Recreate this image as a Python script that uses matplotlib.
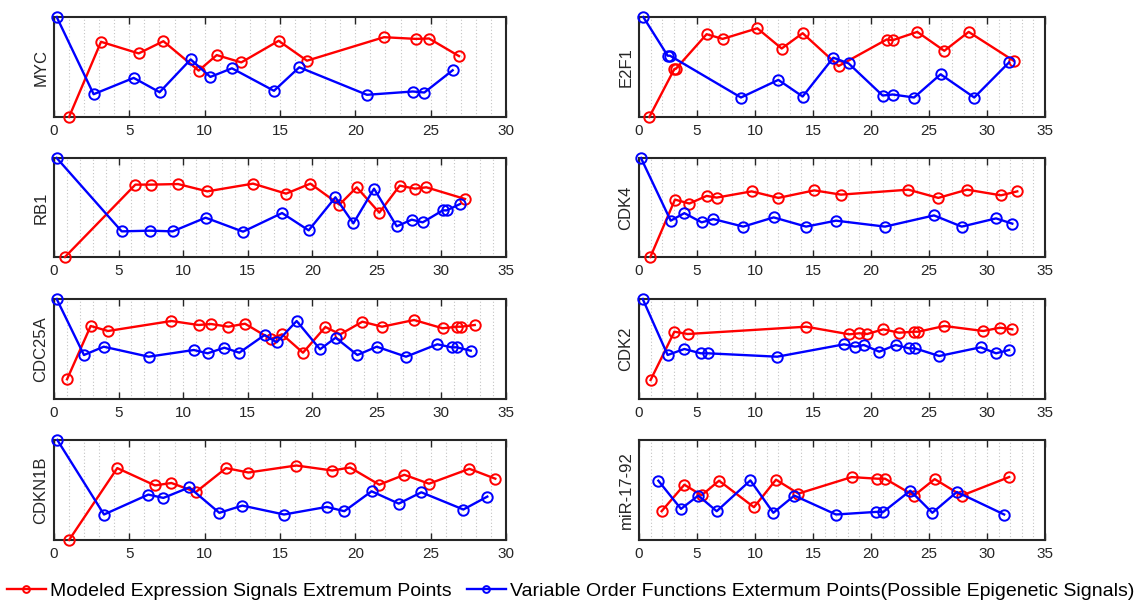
import matplotlib
matplotlib.use("Agg")
import matplotlib.pyplot as plt
from matplotlib.ticker import MultipleLocator

plt.rcParams['font.family'] = ['Liberation Sans', 'DejaVu Sans']

# ---- extremum points: time (x) and normalised level (y) ----
myc_red_t = [1.0, 3.12, 5.62, 7.26, 9.6, 10.8, 12.43, 14.91, 16.79, 21.9, 24.03, 24.89, 26.88]
myc_red_v = [0.0, 0.752, 0.636, 0.758, 0.464, 0.619, 0.546, 0.762, 0.563, 0.798, 0.781, 0.785, 0.609]
myc_blue_t = [0.18, 2.63, 5.29, 7.01, 9.07, 10.38, 11.81, 14.6, 16.28, 20.77, 23.81, 24.58, 26.46]
myc_blue_v = [1.0, 0.228, 0.391, 0.248, 0.576, 0.401, 0.487, 0.262, 0.497, 0.222, 0.255, 0.245, 0.467]

e2f1_red_t = [0.89, 3.05, 3.16, 5.83, 7.21, 10.2, 12.3, 14.11, 17.21, 21.35, 21.87, 23.99, 26.32, 28.42, 32.33]
e2f1_red_v = [0.0, 0.48, 0.48, 0.828, 0.781, 0.887, 0.685, 0.838, 0.51, 0.775, 0.768, 0.851, 0.662, 0.851, 0.56]
e2f1_blue_t = [0.37, 2.47, 2.67, 8.79, 12.01, 14.11, 16.75, 18.07, 21.0, 21.87, 23.71, 26.0, 28.9, 31.9]
e2f1_blue_v = [1.0, 0.613, 0.613, 0.195, 0.371, 0.205, 0.593, 0.536, 0.215, 0.225, 0.195, 0.427, 0.195, 0.546]

rb1_red_t = [0.85, 6.3, 7.49, 9.6, 11.87, 15.41, 17.97, 19.85, 22.1, 23.44, 25.19, 26.77, 27.96, 28.83, 31.83]
rb1_red_v = [0.0, 0.731, 0.731, 0.737, 0.663, 0.741, 0.64, 0.741, 0.529, 0.704, 0.448, 0.721, 0.69, 0.704, 0.586]
rb1_blue_t = [0.21, 5.24, 7.43, 9.19, 11.74, 14.64, 17.66, 19.72, 21.79, 23.18, 24.78, 26.54, 27.7, 28.55, 30.1, 30.41, 31.44]
rb1_blue_v = [1.0, 0.259, 0.266, 0.259, 0.397, 0.256, 0.444, 0.269, 0.603, 0.34, 0.69, 0.31, 0.377, 0.35, 0.471, 0.471, 0.535]

cdk4_red_t = [0.98, 3.1, 4.34, 5.83, 6.7, 9.71, 12.01, 15.11, 17.41, 23.22, 25.8, 28.28, 31.21, 32.61]
cdk4_red_v = [0.0, 0.58, 0.54, 0.617, 0.6, 0.663, 0.597, 0.673, 0.63, 0.68, 0.597, 0.68, 0.623, 0.663]
cdk4_blue_t = [0.17, 2.73, 3.91, 5.4, 6.41, 8.99, 11.61, 14.4, 16.98, 21.21, 25.43, 27.82, 30.78, 32.18]
cdk4_blue_v = [1.0, 0.367, 0.443, 0.35, 0.383, 0.307, 0.4, 0.307, 0.367, 0.307, 0.42, 0.307, 0.39, 0.337]

cdc25a_red_t = [1.01, 2.84, 4.18, 9.09, 11.2, 12.16, 13.5, 14.79, 16.78, 17.66, 19.28, 21.01, 22.17, 23.88, 25.4, 27.88, 30.1, 31.18, 31.52, 32.58]
cdc25a_red_v = [0.197, 0.73, 0.68, 0.78, 0.74, 0.75, 0.723, 0.753, 0.6, 0.647, 0.463, 0.72, 0.647, 0.773, 0.723, 0.79, 0.707, 0.723, 0.723, 0.74]
cdc25a_blue_t = [0.21, 2.32, 3.85, 7.33, 10.82, 11.9, 13.19, 14.35, 16.31, 17.24, 18.79, 20.6, 21.81, 23.49, 24.99, 27.26, 29.68, 30.79, 31.18, 32.27]
cdc25a_blue_v = [1.0, 0.44, 0.523, 0.423, 0.49, 0.457, 0.513, 0.463, 0.64, 0.567, 0.78, 0.497, 0.613, 0.44, 0.523, 0.423, 0.547, 0.517, 0.517, 0.483]

cdk2_red_t = [1.0, 3.05, 4.2, 14.4, 18.13, 18.99, 19.68, 21.06, 22.41, 23.71, 24.08, 26.32, 29.68, 31.12, 32.18]
cdk2_red_v = [0.19, 0.673, 0.65, 0.723, 0.647, 0.657, 0.65, 0.697, 0.663, 0.673, 0.673, 0.73, 0.68, 0.713, 0.697]
cdk2_blue_t = [0.32, 2.47, 3.91, 5.32, 5.92, 11.92, 17.69, 18.62, 19.39, 20.71, 22.12, 23.27, 23.78, 25.88, 29.45, 30.78, 31.9]
cdk2_blue_v = [1.0, 0.44, 0.5, 0.457, 0.457, 0.423, 0.547, 0.523, 0.54, 0.473, 0.54, 0.507, 0.507, 0.43, 0.517, 0.457, 0.49]

cdkn1b_red_t = [1.0, 4.2, 6.7, 7.79, 9.42, 11.42, 12.9, 16.08, 18.47, 19.65, 21.59, 23.25, 24.89, 27.57, 29.29]
cdkn1b_red_v = [0.0, 0.719, 0.546, 0.57, 0.48, 0.719, 0.675, 0.745, 0.695, 0.725, 0.553, 0.652, 0.563, 0.712, 0.613]
cdkn1b_blue_t = [0.22, 3.32, 6.26, 7.26, 8.98, 10.97, 12.5, 15.27, 18.1, 19.27, 21.08, 22.88, 24.38, 27.17, 28.76]
cdkn1b_blue_v = [1.0, 0.255, 0.454, 0.421, 0.526, 0.272, 0.344, 0.255, 0.331, 0.288, 0.487, 0.364, 0.477, 0.305, 0.434]

mir_red_t = [1.95, 3.91, 5.4, 6.9, 9.91, 11.81, 13.74, 18.33, 20.55, 21.21, 23.71, 25.49, 27.82, 31.9]
mir_red_v = [0.288, 0.553, 0.447, 0.593, 0.328, 0.603, 0.464, 0.629, 0.613, 0.613, 0.444, 0.609, 0.444, 0.629]
mir_blue_t = [1.67, 3.62, 5.11, 6.7, 9.6, 11.58, 13.39, 16.98, 20.43, 21.06, 23.39, 25.29, 27.4, 31.48]
mir_blue_v = [0.593, 0.311, 0.444, 0.288, 0.596, 0.272, 0.444, 0.255, 0.281, 0.281, 0.493, 0.272, 0.48, 0.255]

genes = ["MYC", "E2F1", "RB1", "CDK4", "CDC25A", "CDK2", "CDKN1B", "miR-17-92"]
x_max = [30, 35, 35, 35, 35, 35, 30, 35]
series = [
    (myc_red_t, myc_red_v, myc_blue_t, myc_blue_v),
    (e2f1_red_t, e2f1_red_v, e2f1_blue_t, e2f1_blue_v),
    (rb1_red_t, rb1_red_v, rb1_blue_t, rb1_blue_v),
    (cdk4_red_t, cdk4_red_v, cdk4_blue_t, cdk4_blue_v),
    (cdc25a_red_t, cdc25a_red_v, cdc25a_blue_t, cdc25a_blue_v),
    (cdk2_red_t, cdk2_red_v, cdk2_blue_t, cdk2_blue_v),
    (cdkn1b_red_t, cdkn1b_red_v, cdkn1b_blue_t, cdkn1b_blue_v),
    (mir_red_t, mir_red_v, mir_blue_t, mir_blue_v),
]
legend_labels = ["Modeled Expression Signals Extremum Points",
                 "Variable Order Functions Extermum Points(Possible Epigenetic Signals)"]

W, H = 1141, 602
fig = plt.figure(figsize=(W / 100, H / 100), dpi=100)

col_x = [(54, 506), (639, 1045)]
row_y = [(17, 117), (158, 257), (299, 399), (440, 540)]

line_kw = dict(lw=1.7, marker='o', ms=7.5, mew=1.4, mfc='none', clip_on=False)
handles = None
for i, (gene, xm, (rt, rv, bt, bv)) in enumerate(zip(genes, x_max, series)):
    r, c = divmod(i, 2)
    x0, x1 = col_x[c]
    y0, y1 = row_y[r]
    ax = fig.add_axes([x0 / W, 1 - y1 / H, (x1 - x0) / W, (y1 - y0) / H])
    hr, = ax.plot(rt, rv, color='#ff0000', zorder=3, **line_kw)
    hb, = ax.plot(bt, bv, color='#0000ff', zorder=4, **line_kw)
    handles = (hr, hb)
    ax.set_xlim(0, xm)
    ax.set_ylim(0, 1)
    ax.xaxis.set_major_locator(MultipleLocator(5))
    ax.xaxis.set_minor_locator(MultipleLocator(1))
    ax.grid(True, which='both', axis='x', color='#c4c4c4', ls=(0, (1, 2)), lw=0.8)
    ax.set_yticks([])
    ax.tick_params(axis='x', which='major', direction='in', top=True, length=5,
                   width=1, color='#262626', labelsize=11, pad=5, labelcolor='#262626')
    ax.tick_params(axis='x', which='minor', length=0)
    for s in ax.spines.values():
        s.set_linewidth(1.5)
        s.set_color('#262626')
    ax.set_ylabel(gene, fontsize=12, color='#262626', labelpad=4)
    ax.set_axisbelow(True)

fig.legend(handles, legend_labels, loc='center', bbox_to_anchor=(0.5, 1 - 591 / H),
           ncol=2, frameon=False, fontsize=14, handlelength=2.0, handletextpad=0.2,
           columnspacing=0.8, markerscale=0.65)

fig.savefig("out.png", dpi=100)
